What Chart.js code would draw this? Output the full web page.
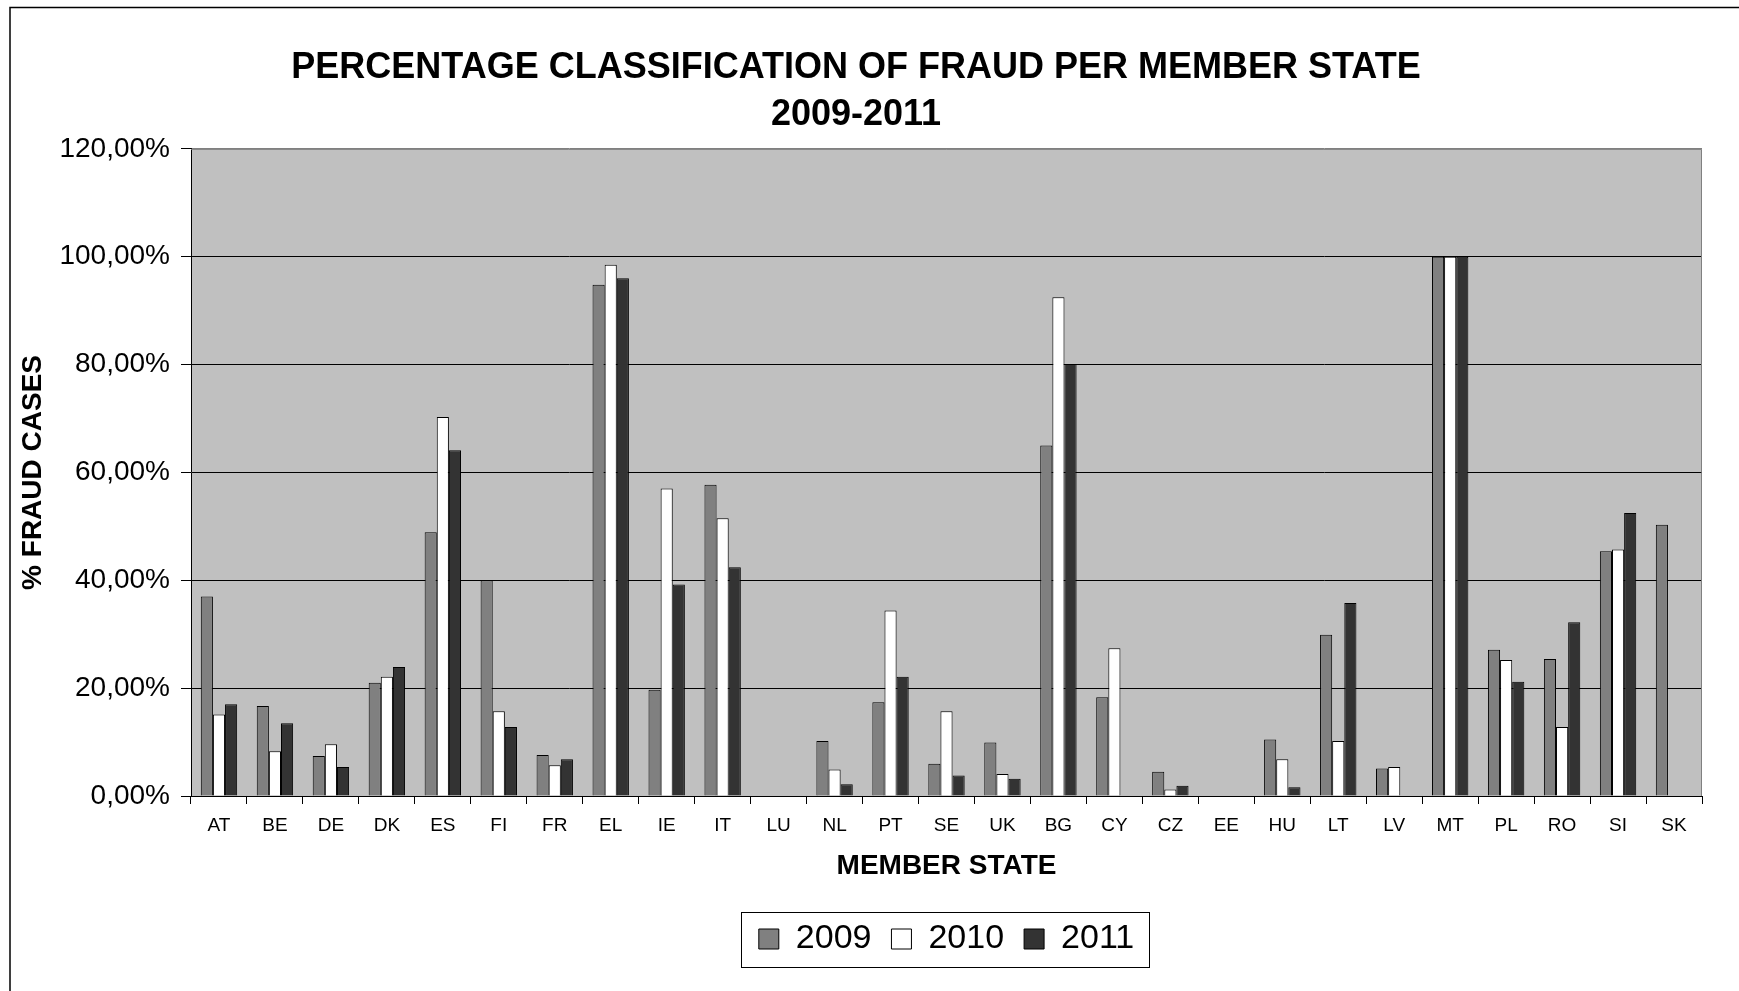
<!DOCTYPE html>
<html>
<head>
<meta charset="utf-8">
<title>Percentage classification of fraud per member state</title>
<script src="https://cdn.jsdelivr.net/npm/chart.js@4/dist/chart.umd.min.js"></script>
<style>
  body { margin: 0; background: #fff; }
  canvas { display: block; }
</style>
</head>
<body>
<canvas id="grafico" width="1739" height="991"></canvas>
<script>
// Datos (porcentajes)
var estados = ['AT','BE','DE','DK','ES','FI','FR','EL','IE','IT','LU','NL','PT','SE','UK',
               'BG','CY','CZ','EE','HU','LT','LV','MT','PL','RO','SI','SK'];
var anios = ['2009', '2010', '2011'];
var datos2009 = [37.0,16.7,7.4,21.0,48.9,40.0,7.6,94.8,19.7,57.7,0,10.2,17.4,6.0,9.9,
                 65.0,18.3,4.5,0,10.5,29.9,5.1,100,27.1,25.4,45.4,50.3];
var datos2010 = [15.1,8.3,9.6,22.1,70.3,15.7,5.7,98.5,57.0,51.5,0,4.9,34.4,15.7,4.1,
                 92.5,27.4,1.2,0,6.8,10.2,5.4,100,25.2,12.8,45.7,0];
var datos2011 = [17.0,13.5,5.4,23.9,64.1,12.8,6.8,96.0,39.2,42.4,0,2.2,22.1,3.8,3.2,
                 80.1,0,1.9,0,1.6,35.8,0,100,21.2,32.2,52.5,0];
var ticksY = [0, 20, 40, 60, 80, 100, 120];

var colores = ['#808080', '#ffffff', '#333333'];
var fuente = "'Liberation Sans', Arial, sans-serif";

Chart.defaults.color = '#000';
Chart.defaults.font.family = fuente;

// fondo gris del area del grafico y marco exterior
var marco = {
    id: 'marco',
    beforeDraw: function (chart) {
        var c = chart.ctx, a = chart.chartArea;
        c.save();
        c.fillStyle = '#c0c0c0';
        c.fillRect(a.left, a.top, a.right - a.left, a.bottom - a.top);
        c.restore();
    },
    afterDraw: function (chart) {
        var c = chart.ctx, a = chart.chartArea;
        c.save();
        c.strokeStyle = '#808080';
        c.lineWidth = 1;
        c.beginPath();
        c.moveTo(a.left, a.top + 0.5);
        c.lineTo(a.right - 0.5, a.top + 0.5);
        c.lineTo(a.right - 0.5, a.bottom);
        c.stroke();

        // borde exterior (solo arriba e izquierda se ven)
        c.strokeStyle = '#000';
        c.lineWidth = 1.5;
        c.beginPath();
        c.moveTo(10, 991);
        c.lineTo(10, 7.5);
        c.lineTo(1739, 7.5);
        c.stroke();

        // caja de la leyenda
        var cajas = chart.legend.legendHitBoxes;
        if (cajas && cajas.length) {
            var izq = cajas[0].left - 18;
            var ult = cajas[cajas.length - 1];
            var der = ult.left + ult.width + 15;
            var cy = cajas[0].top + cajas[0].height / 2;
            c.lineWidth = 1;
            c.strokeStyle = '#000';
            c.strokeRect(Math.round(izq) + 0.5, Math.round(cy - 27.5) + 0.5,
                         Math.round(der - izq), 55);
        }
        c.restore();
    }
};

function formatoPct(v) {
    return v.toFixed(2).replace('.', ',') + '%';
}

new Chart(document.getElementById('grafico'), {
    type: 'bar',
    data: {
        labels: estados,
        datasets: [
            { label: anios[0], data: datos2009, backgroundColor: colores[0], borderColor: '#000', borderWidth: 1 },
            { label: anios[1], data: datos2010, backgroundColor: colores[1], borderColor: '#000', borderWidth: 1 },
            { label: anios[2], data: datos2011, backgroundColor: colores[2], borderColor: '#000', borderWidth: 1 }
        ]
    },
    options: {
        responsive: false,
        animation: false,
        layout: { padding: { left: 10, right: 37, top: 0, bottom: 25 } },
        datasets: { bar: { categoryPercentage: 0.65, barPercentage: 1.0 } },
        scales: {
            x: {
                offset: true,
                grid: { display: true, drawOnChartArea: false, drawTicks: true, tickLength: 8, color: '#000', offset: true },
                border: { color: '#000', width: 1 },
                ticks: { autoSkip: false, maxRotation: 0, padding: 10, font: { size: 19 } },
                title: { display: true, text: 'MEMBER STATE', font: { size: 28, weight: 'bold' }, padding: { top: 0, bottom: 19 } },
                afterFit: function (s) { s.height = 106; }
            },
            y: {
                min: 0,
                max: 120,
                afterBuildTicks: function (s) {
                    s.ticks = ticksY.map(function (v) { return { value: v }; });
                },
                grid: {
                    color: function (ctx) { return ctx.tick && ctx.tick.value === 120 ? '#808080' : '#000'; },
                    tickLength: 10,
                    tickColor: '#000'
                },
                border: { color: '#000', width: 1 },
                ticks: { padding: 11, font: { size: 28 }, callback: function (v) { return formatoPct(v); } },
                title: { display: true, text: '% FRAUD CASES', font: { size: 28, weight: 'bold' }, padding: { top: 6, bottom: 0 } },
                afterFit: function (s) { s.width = 181; }
            }
        },
        plugins: {
            title: {
                display: true,
                text: ['PERCENTAGE CLASSIFICATION OF FRAUD PER MEMBER STATE', '2009-2011'],
                font: { size: 36, weight: 'bold', lineHeight: 1.29 },
                padding: { top: 45, bottom: 11 }
            },
            legend: {
                position: 'bottom',
                fullSize: false,
                labels: { boxWidth: 20, boxHeight: 20, padding: 20, font: { size: 34 } }
            },
            tooltip: { enabled: false }
        }
    },
    plugins: [marco]
});
</script>
</body>
</html>
